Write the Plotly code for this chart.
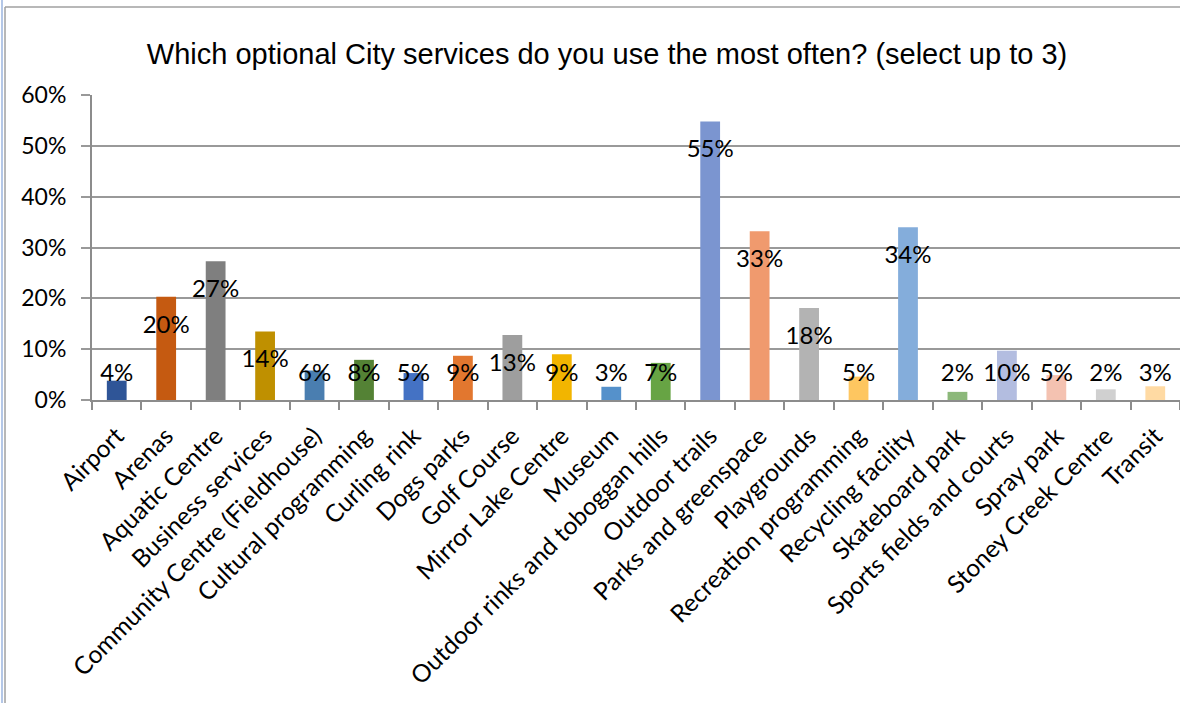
import plotly.graph_objects as go

categories = [
    "Airport", "Arenas", "Aquatic Centre", "Business services",
    "Community Centre (Fieldhouse)", "Cultural programming", "Curling rink",
    "Dogs parks", "Golf Course", "Mirror Lake Centre", "Museum",
    "Outdoor rinks and toboggan hills", "Outdoor trails", "Parks and greenspace",
    "Playgrounds", "Recreation programming", "Recycling facility",
    "Skateboard park", "Sports fields and courts", "Spray park",
    "Stoney Creek Centre", "Transit",
]
values = [
    0.038, 0.203, 0.273, 0.135, 0.058, 0.079, 0.053, 0.087, 0.128, 0.090,
    0.026, 0.073, 0.548, 0.332, 0.181, 0.046, 0.340, 0.016, 0.097, 0.049,
    0.021, 0.027,
]
colors = [
    "#2F5597", "#C55A11", "#7F7F7F", "#BF9000", "#4A7EB0", "#548235",
    "#4472C4", "#E2772F", "#9E9E9E", "#F2B500", "#5591CB", "#67A444",
    "#7B95D0", "#F09A6E", "#B3B3B3", "#FEC660", "#84ADDB", "#8CB87A",
    "#B3BDE0", "#F4C2B1", "#D0D0D0", "#FFDAA3",
]
title_text = "Which optional City services do you use the most often? (select up to 3)"

label_text = [f"{int(v * 100 + 0.5)}%" for v in values]
label_y = [max(v - 0.059, 0.049) for v in values]

W, H = 1180, 703
L, R, T, B = 92, 0, 95, 303

fig = go.Figure()
fig.add_trace(go.Bar(
    x=categories, y=values, marker=dict(color=colors, line=dict(width=0)),
    width=0.4, hoverinfo="x+y",
))
fig.add_trace(go.Scatter(
    x=categories, y=label_y, mode="text", text=label_text,
    textposition="middle center",
    textfont=dict(family="Lato", size=24, color="#000000"),
    hoverinfo="skip",
))

pw = W - L - R
ph = H - T - B
fig.update_layout(
    width=W, height=H,
    margin=dict(l=L, r=R, t=T, b=B, pad=0),
    paper_bgcolor="white", plot_bgcolor="white",
    showlegend=False,
    title=dict(
        text=title_text, x=607 / W, xref="container", xanchor="center",
        y=1 - 54 / H, yref="container", yanchor="middle",
        font=dict(family="Liberation Sans, Arial", size=29, color="#000000"),
    ),
    xaxis=dict(
        type="category", tickangle=-45,
        tickfont=dict(family="Lato", size=24.5, color="#000000"),
        showline=True, linecolor="#8C8C8C", linewidth=2,
        ticks="outside", ticklen=8, tickwidth=1.5, tickcolor="#8C8C8C",
        tickson="boundaries", showgrid=False, zeroline=False,
        range=[-0.5, len(categories) - 0.5], ticklabelstandoff=10,
    ),
    yaxis=dict(
        range=[0, 0.6], dtick=0.1, tickformat=".0%",
        tickfont=dict(family="Lato", size=23, color="#000000"),
        showline=True, linecolor="#8C8C8C", linewidth=2,
        ticks="outside", ticklen=9, tickwidth=1.5, tickcolor="#999999",
        showgrid=True, gridcolor="#999999", gridwidth=1.5,
        zeroline=False, ticklabelstandoff=10,
    ),
    shapes=[
        dict(type="line", xref="paper", yref="paper",
             x0=(5 - L) / pw, x1=(W + 20 - L) / pw,
             y0=1 + (T - 7) / ph, y1=1 + (T - 7) / ph,
             line=dict(color="#A0A0A0", width=1.5)),
        dict(type="line", xref="paper", yref="paper",
             x0=(5 - L) / pw, x1=(5 - L) / pw,
             y0=1 + (T - 7) / ph, y1=-(B + 20) / ph,
             line=dict(color="#A0A0A0", width=1.5)),
        dict(type="line", xref="paper", yref="paper",
             x0=(2 - L) / pw, x1=(2 - L) / pw,
             y0=1 + (T + 20) / ph, y1=-(B + 20) / ph,
             line=dict(color="#B4C7E7", width=2)),
    ],
)

fig.write_html(
    "out.html",
    config={"displayModeBar": False},
    post_script="document.body.style.margin='0';document.body.style.overflow='hidden';",
)
